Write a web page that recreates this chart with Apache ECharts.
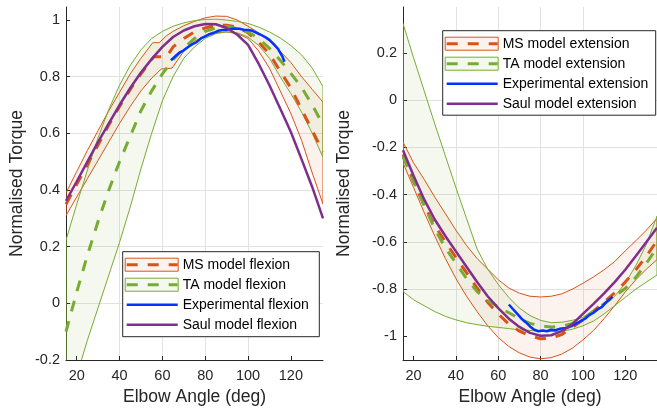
<!DOCTYPE html>
<html>
<head>
<meta charset="utf-8">
<script src="https://cdn.jsdelivr.net/npm/echarts@6/dist/echarts.min.js"></script>
<style>
    html, body { margin: 0; padding: 0; background: #fff; }
    #chart { width: 657px; height: 414px; }
</style>
</head>
<body>
<div id="chart"></div>
<script>
(function () {
    'use strict';

    // ANGULOS (deg)
    var angles = [15, 20, 25, 30, 35, 40, 45, 50, 55, 60, 65, 70, 75, 80, 85, 90, 95, 100, 105, 110, 115, 120, 125, 130, 135];
    var xTicks = [20, 40, 60, 80, 100, 120];
    var yTicksFlex = [-0.2, 0, 0.2, 0.4, 0.6, 0.8, 1];
    var yTicksExt = [-1, -0.8, -0.6, -0.4, -0.2, 0, 0.2];

    var legendFlex = ['MS model flexion', 'TA model flexion', 'Experimental flexion', 'Saul model flexion'];
    var legendExt = ['MS model extension', 'TA model extension', 'Experimental extension', 'Saul model extension'];

    // FLEXAO
    var saulFlex = [0.362, 0.43, 0.50, 0.57, 0.635, 0.70, 0.76, 0.815, 0.862, 0.905, 0.94, 0.963, 0.978, 0.986, 0.985, 0.972, 0.948, 0.912, 0.845, 0.77, 0.688, 0.605, 0.508, 0.41, 0.30];

    var msFlexAngles = [15, 20, 25, 30, 35, 40, 45, 50, 55, 56, 62, 65, 70, 75, 80, 85, 90, 95, 100, 105, 110, 115, 120, 125, 130, 135];
    var msFlex = [0.35, 0.42, 0.49, 0.56, 0.63, 0.695, 0.755, 0.81, 0.86, 0.87, 0.87, 0.905, 0.935, 0.958, 0.972, 0.98, 0.982, 0.975, 0.955, 0.922, 0.88, 0.82, 0.76, 0.685, 0.61, 0.535];
    var msFlexUpAngles = [15, 20, 25, 30, 35, 40, 45, 50, 55.5, 58.5, 62, 65, 70, 75, 80, 85, 90, 95, 100, 105, 110, 115, 120, 125, 130, 135];
    var msFlexUp = [0.39, 0.465, 0.54, 0.61, 0.68, 0.745, 0.81, 0.865, 0.92, 0.92, 0.945, 0.96, 0.98, 0.995, 1.008, 1.014, 1.013, 1.0, 0.978, 0.955, 0.925, 0.89, 0.85, 0.8, 0.755, 0.71];
    var msFlexLoAngles = [15, 20, 25, 30, 35, 40, 45, 50, 55, 59.5, 64.5, 70, 75, 80, 85, 90, 95, 100, 105, 110, 115, 120, 125, 130, 135];
    var msFlexLo = [0.31, 0.375, 0.44, 0.505, 0.57, 0.635, 0.695, 0.75, 0.795, 0.827, 0.83, 0.89, 0.925, 0.945, 0.955, 0.958, 0.952, 0.935, 0.89, 0.83, 0.75, 0.67, 0.575, 0.46, 0.35];

    var taFlex = [-0.10, 0.04, 0.17, 0.29, 0.40, 0.50, 0.59, 0.68, 0.75, 0.81, 0.86, 0.90, 0.935, 0.96, 0.972, 0.977, 0.97, 0.958, 0.935, 0.90, 0.858, 0.812, 0.762, 0.70, 0.63];
    var taFlexUp = [0.223, 0.35, 0.47, 0.585, 0.685, 0.77, 0.84, 0.895, 0.935, 0.96, 0.978, 0.99, 0.998, 1.002, 1.003, 1.0, 0.995, 0.988, 0.975, 0.958, 0.937, 0.91, 0.877, 0.83, 0.765];
    var taFlexLo = [-0.38, -0.255, -0.13, -0.015, 0.10, 0.215, 0.34, 0.475, 0.60, 0.715, 0.80, 0.865, 0.905, 0.935, 0.952, 0.958, 0.955, 0.94, 0.91, 0.865, 0.80, 0.74, 0.675, 0.60, 0.515];

    var expFlexAngles = [64, 66, 68, 70, 72, 74, 76, 78, 80, 82, 84, 86, 88, 90, 92, 94, 96, 98, 100, 102, 104, 106, 108, 110, 112, 114, 116, 117];
    var expFlex = [0.858, 0.872, 0.885, 0.893, 0.905, 0.915, 0.922, 0.935, 0.942, 0.95, 0.955, 0.962, 0.965, 0.966, 0.968, 0.97, 0.969, 0.966, 0.965, 0.962, 0.955, 0.948, 0.94, 0.93, 0.915, 0.898, 0.872, 0.853];

    // EXTENSAO
    var saulExt = [-0.212, -0.32, -0.42, -0.505, -0.575, -0.64, -0.705, -0.77, -0.83, -0.88, -0.925, -0.96, -0.985, -0.997, -0.995, -0.978, -0.948, -0.905, -0.862, -0.818, -0.77, -0.718, -0.66, -0.60, -0.54];
    var msExt = [-0.23, -0.345, -0.445, -0.53, -0.60, -0.665, -0.73, -0.795, -0.855, -0.905, -0.948, -0.978, -0.998, -1.01, -1.008, -0.992, -0.962, -0.93, -0.893, -0.855, -0.815, -0.77, -0.718, -0.66, -0.595];
    var msExtUp = [-0.177, -0.265, -0.335, -0.41, -0.48, -0.55, -0.615, -0.67, -0.715, -0.76, -0.795, -0.817, -0.83, -0.833, -0.83, -0.82, -0.80, -0.775, -0.748, -0.718, -0.683, -0.638, -0.595, -0.55, -0.50];
    var msExtLo = [-0.265, -0.37, -0.475, -0.575, -0.67, -0.755, -0.83, -0.895, -0.955, -1.005, -1.043, -1.07, -1.088, -1.095, -1.09, -1.075, -1.05, -1.015, -0.975, -0.925, -0.87, -0.812, -0.76, -0.715, -0.675];
    var taExt = [-0.24, -0.34, -0.445, -0.545, -0.625, -0.69, -0.755, -0.81, -0.848, -0.875, -0.90, -0.925, -0.945, -0.955, -0.96, -0.957, -0.945, -0.925, -0.893, -0.862, -0.83, -0.797, -0.75, -0.69, -0.625];
    var taExtUp = [0.325, 0.18, 0.04, -0.10, -0.235, -0.37, -0.50, -0.63, -0.715, -0.78, -0.835, -0.88, -0.912, -0.932, -0.942, -0.94, -0.932, -0.92, -0.90, -0.87, -0.83, -0.775, -0.70, -0.61, -0.49];
    var taExtLo = [-0.81, -0.845, -0.87, -0.895, -0.915, -0.93, -0.942, -0.95, -0.957, -0.962, -0.967, -0.972, -0.975, -0.978, -0.98, -0.978, -0.97, -0.955, -0.935, -0.905, -0.87, -0.835, -0.80, -0.77, -0.74];

    var expExtAngles = [65, 67, 69, 71, 73, 75, 77, 79, 81, 83, 85, 87, 89, 91, 93, 95, 97, 99, 101, 103, 105, 107, 109, 111, 113, 114];
    var expExt = [-0.865, -0.885, -0.905, -0.925, -0.94, -0.958, -0.972, -0.978, -0.975, -0.978, -0.972, -0.974, -0.968, -0.966, -0.962, -0.955, -0.945, -0.935, -0.925, -0.91, -0.90, -0.885, -0.875, -0.855, -0.84, -0.832];

    var FONT = '"Liberation Sans", Arial, Helvetica, sans-serif';
    var TXT = '#262626';
    var ORANGE = '#D95319';
    var GREEN = '#77AC30';
    var BLUE = '#0033FF';
    var PURPLE = '#7E2F8E';
    var ORANGE_FILL = 'rgba(217,83,25,0.07)';
    var GREEN_FILL = 'rgba(119,172,48,0.08)';
    var DASH = [11, 10];

    function zip(xs, ys) {
        return xs.map(function (x, i) { return [x, ys[i]]; });
    }

    function linha(idx, xs, ys, cor, largura, tipo, z) {
        return {
            type: 'line',
            xAxisIndex: idx,
            yAxisIndex: idx,
            data: zip(xs, ys),
            symbol: 'none',
            silent: true,
            z: z,
            lineStyle: { color: cor, width: largura, type: tipo || 'solid' }
        };
    }

    // faixa entre limite superior e inferior
    function faixa(idx, upX, upY, loX, loY, cor, preenchimento) {
        return {
            type: 'custom',
            xAxisIndex: idx,
            yAxisIndex: idx,
            data: [[upX[0], upY[0]]],
            silent: true,
            z: 1,
            renderItem: function (params, api) {
                var pts = [];
                for (var i = 0; i < upX.length; i++) {
                    pts.push(api.coord([upX[i], upY[i]]));
                }
                for (var j = loX.length - 1; j >= 0; j--) {
                    pts.push(api.coord([loX[j], loY[j]]));
                }
                var cs = params.coordSys;
                return {
                    type: 'polygon',
                    shape: { points: pts },
                    style: { fill: preenchimento, stroke: cor, lineWidth: 1 },
                    clipPath: { type: 'rect', shape: { x: cs.x, y: cs.y, width: cs.width, height: cs.height } }
                };
            }
        };
    }

    function eixoX(gi) {
        return {
            type: 'value', gridIndex: gi, min: 15, max: 135, splitNumber: 6,
            name: 'Elbow Angle (deg)', nameLocation: 'middle', nameGap: 28,
            nameTextStyle: { fontSize: 17.5, color: TXT, fontFamily: FONT },
            axisLine: { show: true, onZero: false, lineStyle: { color: TXT, width: 1 } },
            axisTick: { show: true, inside: true, length: 4, customValues: xTicks, lineStyle: { color: TXT } },
            axisLabel: { customValues: xTicks, margin: 8, fontSize: 14.5, color: TXT, fontFamily: FONT },
            splitLine: { show: true, showMinLine: false, showMaxLine: false, lineStyle: { color: '#e2e2e2', width: 1 } }
        };
    }

    function eixoY(gi, min, max, ticks, gap) {
        return {
            type: 'value', gridIndex: gi, min: min, max: max, splitNumber: 7,
            name: 'Normalised Torque', nameLocation: 'middle', nameGap: gap,
            nameTextStyle: { fontSize: 17.5, color: TXT, fontFamily: FONT },
            axisLine: { show: true, onZero: false, lineStyle: { color: TXT, width: 1 } },
            axisTick: { show: true, inside: true, length: 4, customValues: ticks, lineStyle: { color: TXT } },
            axisLabel: { customValues: ticks, margin: 6, fontSize: 14.5, color: TXT, fontFamily: FONT },
            splitLine: { show: true, showMinLine: false, showMaxLine: false, lineStyle: { color: '#e2e2e2', width: 1 } }
        };
    }

    // LEGENDA
    var estilosLegenda = [
        { cor: ORANGE, fill: ORANGE_FILL, largura: 3, dash: DASH },
        { cor: GREEN, fill: GREEN_FILL, largura: 3, dash: DASH },
        { cor: BLUE, largura: 2.5 },
        { cor: PURPLE, largura: 2.5 }
    ];

    function legenda(x, y, w, h, nomes) {
        var els = [{
            type: 'rect', z: 100,
            shape: { x: x, y: y, width: w, height: h },
            style: { fill: '#fff', stroke: TXT, lineWidth: 1 }
        }];
        nomes.forEach(function (nome, i) {
            var st = estilosLegenda[i];
            var cy = y + 13 + 20 * i;
            if (st.fill) {
                els.push({
                    type: 'rect', z: 101,
                    shape: { x: x + 2.5, y: cy - 6.5, width: 53, height: 13 },
                    style: { fill: st.fill, stroke: st.cor, lineWidth: 1 }
                });
            }
            els.push({
                type: 'line', z: 102,
                shape: { x1: x + 4, y1: cy, x2: x + 55, y2: cy },
                style: { stroke: st.cor, lineWidth: st.largura, lineDash: st.dash || null }
            });
            els.push({
                type: 'text', z: 102, x: x + 60, y: cy,
                style: { text: nome, fontSize: 14, fontFamily: FONT, fill: '#000', verticalAlign: 'middle', textVerticalAlign: 'middle' }
            });
        });
        return els;
    }

    var chart = echarts.init(document.getElementById('chart'), null, { renderer: 'canvas' });
    chart.setOption({
        animation: false,
        backgroundColor: '#fff',
        grid: [
            { left: 66, top: 7, width: 257, height: 353 },
            { left: 403, top: 7, width: 256, height: 353 }
        ],
        xAxis: [eixoX(0), eixoX(1)],
        yAxis: [
            eixoY(0, -0.2, 1.046, yTicksFlex, 40),
            eixoY(1, -1.1, 0.395, yTicksExt, 50)
        ],
        series: [
            faixa(0, msFlexUpAngles, msFlexUp, msFlexLoAngles, msFlexLo, ORANGE, ORANGE_FILL),
            faixa(0, angles, taFlexUp, angles, taFlexLo, GREEN, GREEN_FILL),
            linha(0, msFlexAngles, msFlex, ORANGE, 3, DASH, 2),
            linha(0, angles, taFlex, GREEN, 3, DASH, 2),
            linha(0, expFlexAngles, expFlex, BLUE, 2.5, 'solid', 3),
            linha(0, angles, saulFlex, PURPLE, 2.5, 'solid', 4),

            faixa(1, angles, msExtUp, angles, msExtLo, ORANGE, ORANGE_FILL),
            faixa(1, angles, taExtUp, angles, taExtLo, GREEN, GREEN_FILL),
            linha(1, angles, msExt, ORANGE, 3, DASH, 2),
            linha(1, angles, taExt, GREEN, 3, DASH, 2),
            linha(1, expExtAngles, expExt, BLUE, 2.5, 'solid', 3),
            linha(1, angles, saulExt, PURPLE, 2.5, 'solid', 4)
        ],
        graphic: legenda(122.7, 251.7, 196.6, 85, legendFlex).concat(legenda(442.7, 30.7, 213, 84.5, legendExt))
    });
})();
</script>
</body>
</html>
